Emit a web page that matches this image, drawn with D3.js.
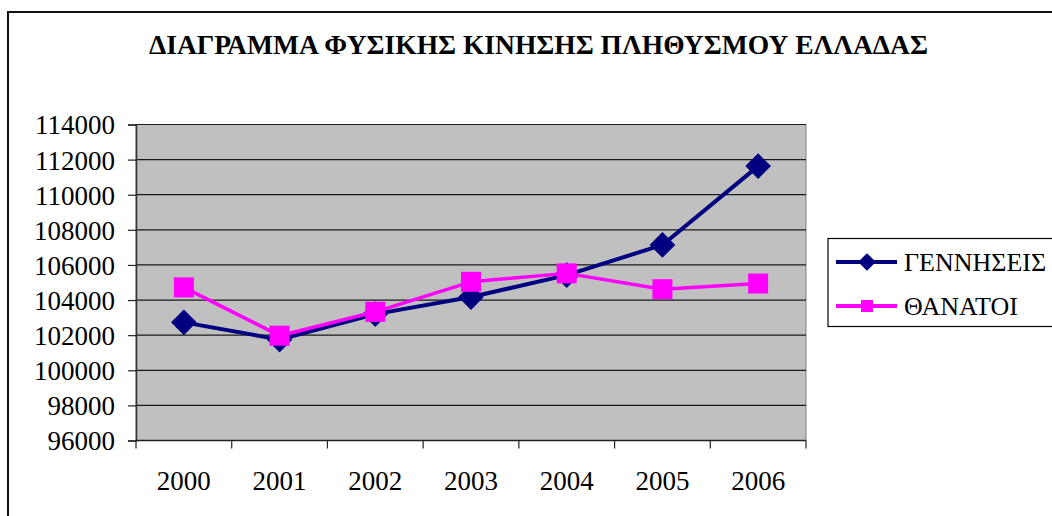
<!DOCTYPE html>
<html>
<head>
<meta charset="utf-8">
<script src="https://cdn.jsdelivr.net/npm/d3@7"></script>
<style>
  html, body { margin: 0; padding: 0; background: #fff; }
  svg { display: block; }
</style>
</head>
<body>
<svg id="chart" width="1052" height="516"></svg>
<script>
const title = "ΔΙΑΓΡΑΜΜΑ ΦΥΣΙΚΗΣ ΚΙΝΗΣΗΣ ΠΛΗΘΥΣΜΟΥ ΕΛΛΑΔΑΣ";
const years = ["2000", "2001", "2002", "2003", "2004", "2005", "2006"];
const births = [102730, 101750, 103200, 104170, 105420, 107140, 111630];
const deaths = [104720, 101970, 103330, 105040, 105520, 104620, 104940];
const seriesNames = ["ΓΕΝΝΗΣΕΙΣ", "ΘΑΝΑΤΟΙ"];
const yTicks = [96000, 98000, 100000, 102000, 104000, 106000, 108000, 110000, 112000, 114000];

const FONT = "'Liberation Serif', 'Times New Roman', Times, Tinos, 'DejaVu Serif', serif";
const svg = d3.select("#chart").style("font-family", FONT);
const plot = { left: 136, right: 806, top: 124.5, bottom: 440.5 };

// outer chart frame (clipped by the window on right and bottom)
svg.append("rect")
  .attr("x", 8).attr("y", 12)
  .attr("width", 1200).attr("height", 700)
  .attr("fill", "#fff").attr("stroke", "#111").attr("stroke-width", 2);

// title
svg.append("text")
  .attr("x", 149).attr("y", 54)
  .style("font-family", FONT)
  .attr("font-size", 27).attr("font-weight", "bold")
  .attr("textLength", 779).attr("lengthAdjust", "spacingAndGlyphs")
  .text(title);

const x = d3.scaleBand().domain(years).range([plot.left, plot.right]).padding(0);
const y = d3.scaleLinear().domain([96000, 114000]).range([plot.bottom, plot.top]);
const cx = d => x(d) + x.bandwidth() / 2;

// plot area background
svg.append("rect")
  .attr("x", plot.left).attr("y", plot.top)
  .attr("width", plot.right - plot.left).attr("height", plot.bottom - plot.top)
  .attr("fill", "#C0C0C0").attr("stroke", "#808080").attr("stroke-width", 1);

// gridlines
svg.append("g").selectAll("line").data(yTicks).join("line")
  .attr("x1", plot.left).attr("x2", plot.right)
  .attr("y1", d => y(d)).attr("y2", d => y(d))
  .attr("stroke", "#1a1a1a").attr("stroke-width", 1.2);

// y axis
const yAxis = svg.append("g")
  .attr("transform", `translate(${plot.left},0)`)
  .call(d3.axisLeft(y).tickValues(yTicks).tickSize(8).tickPadding(13).tickFormat(d3.format("d")));
yAxis.attr("font-family", null).style("font-family", FONT);
yAxis.select(".domain").attr("stroke", "#333").attr("stroke-width", 1.5);
yAxis.selectAll(".tick line").attr("stroke", "#222").attr("stroke-width", 1.2);
yAxis.selectAll(".tick text")
  .style("font-family", FONT)
  .attr("font-size", 27).attr("fill", "#000").attr("dy", "0.35em");

// x axis
const xg = svg.append("g");
xg.append("line")
  .attr("x1", plot.left).attr("x2", plot.right)
  .attr("y1", plot.bottom).attr("y2", plot.bottom)
  .attr("stroke", "#222").attr("stroke-width", 1.5);
const edges = years.map(d => x(d)).concat([x.range()[1]]);
xg.selectAll("line.tick").data(edges).join("line").attr("class", "tick")
  .attr("x1", d => d).attr("x2", d => d)
  .attr("y1", plot.bottom).attr("y2", plot.bottom + 8)
  .attr("stroke", "#222").attr("stroke-width", 1.2);
xg.selectAll("text").data(years).join("text")
  .attr("x", d => cx(d)).attr("y", 490)
  .style("font-family", FONT)
  .attr("text-anchor", "middle").attr("font-size", 27)
  .text(d => d);

// lines
const line = d3.line().x((d, i) => cx(years[i])).y(d => y(d));
const navy = "#000080", magenta = "#FF00FF";

svg.append("path").datum(births)
  .attr("d", line).attr("fill", "none")
  .attr("stroke", navy).attr("stroke-width", 4).attr("stroke-linejoin", "round");
svg.append("g").selectAll("path").data(births).join("path")
  .attr("d", d3.symbol(d3.symbolDiamond2, 420)())
  .attr("transform", (d, i) => `translate(${cx(years[i])},${y(d)})`)
  .attr("fill", navy);

svg.append("path").datum(deaths)
  .attr("d", line).attr("fill", "none")
  .attr("stroke", magenta).attr("stroke-width", 3.5).attr("stroke-linejoin", "round");
svg.append("g").selectAll("rect").data(deaths).join("rect")
  .attr("x", (d, i) => cx(years[i]) - 10).attr("y", d => y(d) - 10)
  .attr("width", 20).attr("height", 20)
  .attr("fill", magenta);

// legend
const lg = svg.append("g");
lg.append("rect")
  .attr("x", 828).attr("y", 238.5).attr("width", 300).attr("height", 88)
  .attr("fill", "#fff").attr("stroke", "#000").attr("stroke-width", 1.2);
const rows = [
  { name: seriesNames[0], color: navy, y: 262, shape: "diamond" },
  { name: seriesNames[1], color: magenta, y: 306, shape: "square" }
];
rows.forEach(r => {
  lg.append("line").attr("x1", 836).attr("x2", 897).attr("y1", r.y).attr("y2", r.y)
    .attr("stroke", r.color).attr("stroke-width", 4);
  if (r.shape === "diamond") {
    lg.append("path").attr("d", d3.symbol(d3.symbolDiamond2, 200)())
      .attr("transform", `translate(867,${r.y})`).attr("fill", r.color);
  } else {
    lg.append("rect").attr("x", 861).attr("y", r.y - 6).attr("width", 12).attr("height", 12)
      .attr("fill", r.color);
  }
  lg.append("text").attr("x", 904).attr("y", r.y + 9)
    .style("font-family", FONT)
    .attr("font-size", 26).text(r.name);
});
</script>
</body>
</html>
